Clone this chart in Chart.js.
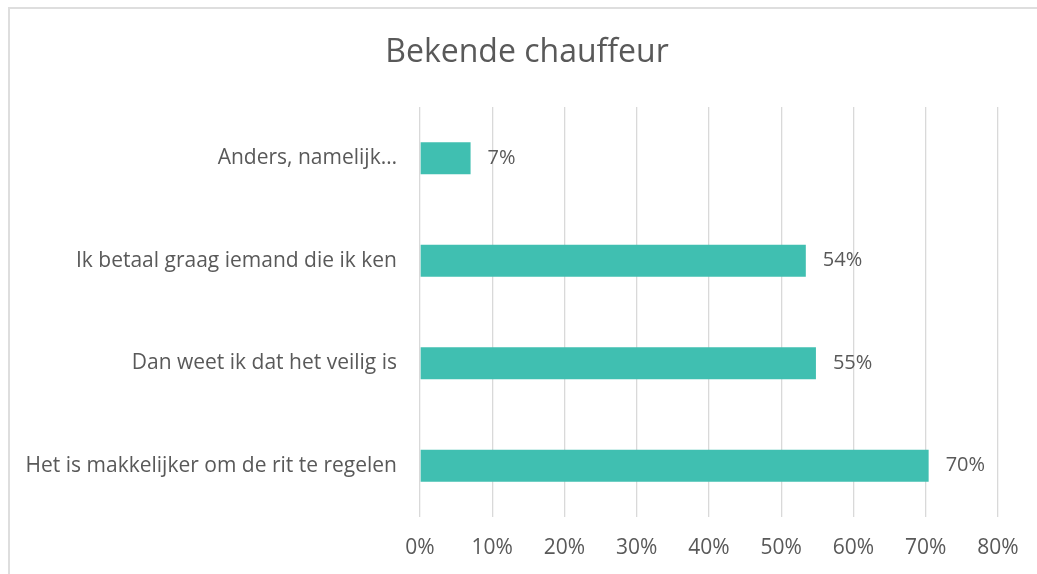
<!DOCTYPE html>
<html>
<head>
<meta charset="utf-8">
<script src="https://cdn.jsdelivr.net/npm/chart.js@4"></script>
<style>
  html, body { margin: 0; padding: 0; background: #fff; overflow: hidden; }
  #wrap { position: relative; width: 1037px; height: 574px; }
  #frame { position: absolute; left: 8px; top: 7px; width: 1100px; height: 700px;
           border: 2px solid #dedede; box-sizing: border-box; }
  #box { position: absolute; left: 0; top: 0; width: 1037px; height: 574px; }
</style>
</head>
<body>
<div id="wrap">
  <div id="frame"></div>
  <div id="box"><canvas id="myChart"></canvas></div>
</div>
<script>
var title = "Bekende chauffeur";
var categories = [
    "Anders, namelijk…",
    "Ik betaal graag iemand die ik ken",
    "Dan weet ik dat het veilig is",
    "Het is makkelijker om de rit te regelen"
];
var values = [7.0, 53.4, 54.8, 70.4];
var valueLabels = ["7%", "54%", "55%", "70%"];
var xTicks = [0, 10, 20, 30, 40, 50, 60, 70, 80];

var textColor = '#595959';
var fontFamily = '"Open Sans", "Liberation Sans", sans-serif';

// value labels right of each bar
var barLabels = {
    id: 'barLabels',
    afterDatasetsDraw: function (chart) {
        var ctx = chart.ctx;
        var meta = chart.getDatasetMeta(0);
        ctx.save();
        ctx.font = '20px ' + fontFamily;
        ctx.fillStyle = textColor;
        ctx.textAlign = 'left';
        ctx.textBaseline = 'middle';
        meta.data.forEach(function (bar, i) {
            ctx.fillText(valueLabels[i], bar.x + 17, bar.y);
        });
        ctx.restore();
    }
};

// chart title, centered on the frame rather than the canvas
var chartTitle = {
    id: 'chartTitle',
    afterDraw: function (chart) {
        var ctx = chart.ctx;
        ctx.save();
        ctx.font = '32px ' + fontFamily;
        ctx.fillStyle = textColor;
        ctx.textAlign = 'center';
        ctx.textBaseline = 'middle';
        ctx.fillText(title, 527, 53);
        ctx.restore();
    }
};

function chart() {
    var ctx = document.getElementById('myChart').getContext('2d');

    new Chart(ctx, {
        type: 'bar',
        data: {
            labels: categories,
            datasets: [{
                data: values,
                backgroundColor: '#40BFB1',
                barPercentage: 0.62,
                categoryPercentage: 0.5
            }]
        },
        options: {
            indexAxis: 'y',
            responsive: true,
            maintainAspectRatio: false,
            animation: false,
            layout: { padding: { top: 107, right: 39, left: 0, bottom: 0 } },
            plugins: {
                legend: { display: false },
                title: { display: false },
                tooltip: { enabled: false }
            },
            scales: {
                x: {
                    min: 0,
                    max: 80,
                    afterBuildTicks: function (scale) {
                        scale.ticks = xTicks.map(function (v) { return { value: v }; });
                    },
                    afterFit: function (scale) { scale.height = 57; },
                    grid: { color: '#d9d9d9', lineWidth: 1.3, drawTicks: false },
                    border: { display: false },
                    ticks: {
                        padding: 18,
                        color: textColor,
                        font: { family: fontFamily, size: 21 },
                        callback: function (v) { return v + '%'; }
                    }
                },
                y: {
                    afterFit: function (scale) { scale.width = 420; },
                    grid: { display: false, drawTicks: false },
                    border: { display: false },
                    ticks: {
                        padding: 23,
                        color: textColor,
                        font: { family: fontFamily, size: 21 }
                    }
                }
            }
        },
        plugins: [barLabels, chartTitle]
    });
}

chart();
</script>
</body>
</html>
